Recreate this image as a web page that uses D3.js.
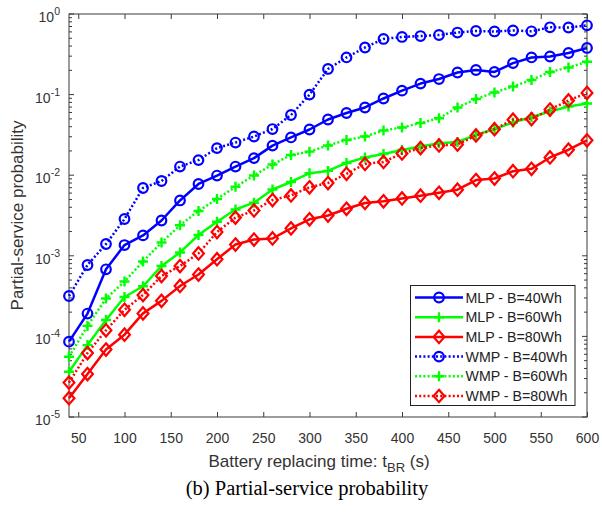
<!DOCTYPE html>
<html>
<head>
<meta charset="utf-8">
<script src="https://cdn.jsdelivr.net/npm/d3@7"></script>
<style>
  html, body { margin: 0; padding: 0; background: #fff; }
  svg { display: block; }
</style>
</head>
<body>
<svg id="chart" width="602" height="514"></svg>
<script>
// Battery replacing time t_BR (s)
const tBR = [40, 60, 80, 100, 120, 140, 160, 180, 200, 220, 240, 260, 280, 300, 320,
             340, 360, 380, 400, 420, 440, 460, 480, 500, 520, 540, 560, 580, 600];

// Partial-service probability per scheme and battery capacity
const mlp40 = [8.6e-5, 1.92e-4, 6.8e-4, 1.36e-3, 1.79e-3, 2.74e-3, 4.86e-3, 7.78e-3, 9.9e-3, 1.28e-2,
               1.63e-2, 2.33e-2, 2.94e-2, 3.69e-2, 4.91e-2, 5.91e-2, 6.92e-2, 8.95e-2, 0.112, 0.137,
               0.156, 0.188, 0.202, 0.191, 0.246, 0.289, 0.297, 0.328, 0.379];
const mlp60 = [3.65e-5, 7.8e-5, 1.6e-4, 3.08e-4, 4.19e-4, 7.46e-4, 1.1e-3, 1.81e-3, 2.65e-3, 3.75e-3,
               4.56e-3, 6.65e-3, 8.24e-3, 1.06e-2, 1.13e-2, 1.42e-2, 1.66e-2, 1.83e-2, 2.05e-2, 2.27e-2,
               2.49e-2, 2.58e-2, 3.16e-2, 3.74e-2, 4.51e-2, 5.27e-2, 6.17e-2, 7.11e-2, 7.76e-2];
const mlp80 = [1.71e-5, 3.41e-5, 6.87e-5, 1.05e-4, 1.93e-4, 2.76e-4, 4.22e-4, 5.86e-4, 9.07e-4, 1.38e-3,
               1.59e-3, 1.64e-3, 2.19e-3, 2.84e-3, 3.16e-3, 3.83e-3, 4.52e-3, 4.75e-3, 5.14e-3, 5.57e-3,
               6.05e-3, 6.61e-3, 8.71e-3, 9.1e-3, 1.12e-2, 1.2e-2, 1.66e-2, 2.07e-2, 2.71e-2];
const wmp40 = [3.17e-4, 7.69e-4, 1.4e-3, 2.86e-3, 6.94e-3, 8.47e-3, 1.28e-2, 1.54e-2, 2.17e-2, 2.54e-2,
               3.02e-2, 3.74e-2, 5.58e-2, 0.1, 0.208, 0.289, 0.384, 0.49, 0.519, 0.533,
               0.549, 0.589, 0.615, 0.607, 0.624, 0.61, 0.684, 0.68, 0.724];
const wmp60 = [5.6e-5, 1.35e-4, 2.95e-4, 4.8e-4, 8.49e-4, 1.46e-3, 2.39e-3, 3.6e-3, 5.07e-3, 7.18e-3,
               9.91e-3, 1.36e-2, 1.78e-2, 1.96e-2, 2.34e-2, 2.73e-2, 3.02e-2, 3.59e-2, 3.91e-2, 4.44e-2,
               5.08e-2, 6.92e-2, 8.82e-2, 0.106, 0.126, 0.152, 0.191, 0.217, 0.256];
const wmp80 = [2.67e-5, 6.22e-5, 1.19e-4, 2.14e-4, 3.26e-4, 5.61e-4, 7.46e-4, 1.07e-3, 1.97e-3, 2.98e-3,
               3.65e-3, 4.92e-3, 5.6e-3, 7.08e-3, 8.0e-3, 1.04e-2, 1.38e-2, 1.46e-2, 1.86e-2, 2.17e-2,
               2.34e-2, 2.4e-2, 3.11e-2, 3.72e-2, 4.88e-2, 4.98e-2, 6.53e-2, 8.45e-2, 0.105];

const seriesNames = ["MLP - B=40Wh", "MLP - B=60Wh", "MLP - B=80Wh",
                     "WMP - B=40Wh", "WMP - B=60Wh", "WMP - B=80Wh"];
const seriesValues = [mlp40, mlp60, mlp80, wmp40, wmp60, wmp80];

const xTicks = [50, 100, 150, 200, 250, 300, 350, 400, 450, 500, 550, 600];
const yDecades = [-5, -4, -3, -2, -1, 0];

// Styling for each series (colour, marker, dotted or solid)
const styles = [
  { color: "#0000ff", marker: "circle",  dotted: false },
  { color: "#00ff00", marker: "plus",    dotted: false },
  { color: "#ff0000", marker: "diamond", dotted: false },
  { color: "#0000ff", marker: "circle",  dotted: true },
  { color: "#00ff00", marker: "plus",    dotted: true },
  { color: "#ff0000", marker: "diamond", dotted: true }
];

const svg = d3.select("#chart");
const plotLeft = 69, plotRight = 587, plotTop = 14, plotBottom = 417;
const axisColor = "#3a3a3a";
const labelColor = "#333";
const sans = "'Liberation Sans', Arial, Helvetica, sans-serif";

const x = d3.scaleLinear().domain([40, 600]).range([plotLeft, plotRight]);
const y = d3.scaleLog().domain([1e-5, 1]).range([plotBottom, plotTop]);

// Plot box
svg.append("rect")
  .attr("x", plotLeft).attr("y", plotTop)
  .attr("width", plotRight - plotLeft).attr("height", plotBottom - plotTop)
  .attr("fill", "#fff").attr("stroke", axisColor).attr("stroke-width", 1);

// Bottom and top axes (ticks point inward)
const xAxisBottom = svg.append("g").attr("transform", `translate(0,${plotBottom})`)
  .call(d3.axisBottom(x).tickValues(xTicks).tickSizeInner(-5).tickSizeOuter(0).tickPadding(16));
const xAxisTop = svg.append("g").attr("transform", `translate(0,${plotTop})`)
  .call(d3.axisTop(x).tickValues(xTicks).tickSizeInner(-5).tickSizeOuter(0).tickFormat(""));
[xAxisBottom, xAxisTop].forEach(g => {
  g.select(".domain").remove();
  g.selectAll("line").attr("stroke", axisColor);
});
xAxisBottom.selectAll("text")
  .attr("fill", labelColor).attr("font-family", sans).attr("font-size", 14);

// Left and right log axes: major decade ticks and minor ticks
const minorVals = [];
yDecades.slice(0, -1).forEach(d => {
  for (let m = 2; m <= 9; m++) minorVals.push(m * Math.pow(10, d));
});
const majorVals = yDecades.map(d => Math.pow(10, d));

const yTicks = svg.append("g");
[[plotLeft, 1], [plotRight, -1]].forEach(([xpos, dir]) => {
  yTicks.selectAll(null).data(majorVals).enter().append("line")
    .attr("x1", xpos).attr("x2", xpos + dir * 5)
    .attr("y1", d => y(d)).attr("y2", d => y(d))
    .attr("stroke", axisColor);
  yTicks.selectAll(null).data(minorVals).enter().append("line")
    .attr("x1", xpos).attr("x2", xpos + dir * 3)
    .attr("y1", d => y(d)).attr("y2", d => y(d))
    .attr("stroke", axisColor);
});

// Decade labels as 10 with a superscript exponent
const yLabels = svg.append("g");
yDecades.forEach(d => {
  const t = yLabels.append("text")
    .attr("x", 60).attr("y", y(Math.pow(10, d)) + 8)
    .attr("text-anchor", "end")
    .attr("fill", labelColor).attr("font-family", sans).attr("font-size", 14);
  t.append("tspan").text("10");
  t.append("tspan").attr("dy", -7).attr("font-size", 10.5).text(d === 0 ? "0" : "-" + Math.abs(d));
});

// Marker shapes
function drawMarker(g, type, cx, cy, color) {
  if (type === "circle") {
    g.append("circle").attr("cx", cx).attr("cy", cy).attr("r", 4.8)
      .attr("fill", "none").attr("stroke", color).attr("stroke-width", 2.2);
  } else if (type === "diamond") {
    g.append("path")
      .attr("d", `M${cx},${cy - 6.2}L${cx + 5.4},${cy}L${cx},${cy + 6.2}L${cx - 5.4},${cy}Z`)
      .attr("fill", "none").attr("stroke", color).attr("stroke-width", 2.2);
  } else {
    g.append("path")
      .attr("d", `M${cx - 5},${cy}H${cx + 5}M${cx},${cy - 5}V${cy + 5}`)
      .attr("fill", "none").attr("stroke", color).attr("stroke-width", 2.4);
  }
}

// Series lines and markers
const line = d3.line().x(d => x(d[0])).y(d => y(d[1]));
const plot = svg.append("g");
seriesValues.forEach((vals, i) => {
  const s = styles[i];
  const pts = tBR.map((t, k) => [t, vals[k]]);
  const g = plot.append("g");
  g.append("path").datum(pts)
    .attr("d", line)
    .attr("fill", "none")
    .attr("stroke", s.color)
    .attr("stroke-width", 2.5)
    .attr("stroke-linejoin", "round")
    .attr("stroke-dasharray", s.dotted ? "2,2.2" : null);
  pts.forEach(p => drawMarker(g, s.marker, x(p[0]), y(p[1]), s.color));
});

// Legend
const lg = svg.append("g");
const lgX = 410.5, lgY = 285.5, lgW = 164.5, lgH = 120;
lg.append("rect").attr("x", lgX).attr("y", lgY).attr("width", lgW).attr("height", lgH)
  .attr("fill", "#fff").attr("stroke", "#222").attr("stroke-width", 1);
seriesNames.forEach((name, i) => {
  const s = styles[i];
  const ry = 297.5 + i * 19.7;
  lg.append("line").attr("x1", 415).attr("x2", 463).attr("y1", ry).attr("y2", ry)
    .attr("stroke", s.color).attr("stroke-width", 2.5)
    .attr("stroke-dasharray", s.dotted ? "2,2.2" : null);
  drawMarker(lg, s.marker, 439, ry, s.color);
  lg.append("text").attr("x", 465.5).attr("y", ry + 5)
    .attr("fill", "#222").attr("font-family", sans).attr("font-size", 14.2)
    .text(name);
});

// Axis titles
const xt = svg.append("text")
  .attr("x", 319).attr("y", 467)
  .attr("text-anchor", "middle")
  .attr("fill", labelColor).attr("font-family", sans).attr("font-size", 17);
xt.append("tspan").text("Battery replacing time: t");
xt.append("tspan").attr("dy", 5).attr("font-size", 13).text("BR");
xt.append("tspan").attr("dy", -5).text(" (s)");

svg.append("text")
  .attr("transform", `translate(23,${(plotTop + plotBottom) / 2}) rotate(-90)`)
  .attr("text-anchor", "middle")
  .attr("fill", labelColor).attr("font-family", sans).attr("font-size", 17)
  .text("Partial-service probability");

// Caption
svg.append("text")
  .attr("x", 307).attr("y", 495)
  .attr("text-anchor", "middle")
  .attr("fill", "#000").attr("font-family", "'Liberation Serif', 'Times New Roman', serif")
  .attr("font-size", 20.5)
  .text("(b) Partial-service probability");
</script>
</body>
</html>
